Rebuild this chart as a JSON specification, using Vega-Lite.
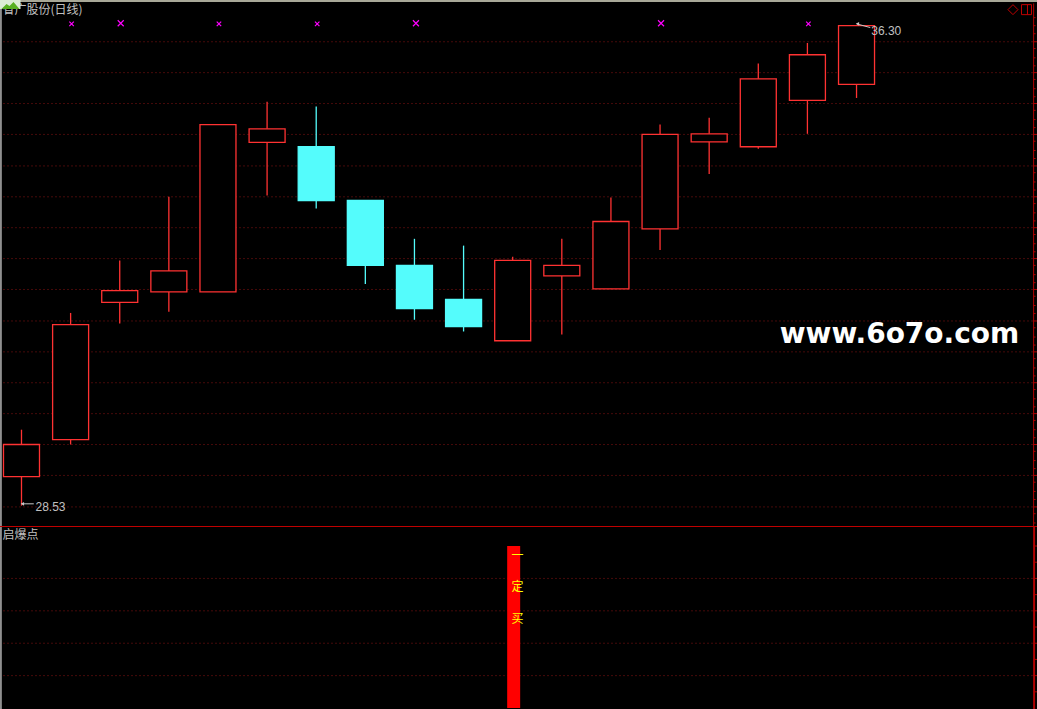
{
"$schema":"https://vega.github.io/schema/vega-lite/v6.json",
"background":"#000000","padding":0,"spacing":0,
"config":{"view":{"stroke":null}},
"datasets":{
"candles":[
{"i":0,"high":29.76,"open":29.00,"close":29.52,"low":28.53,"dir":"up"},
{"i":1,"high":31.65,"open":29.60,"close":31.46,"low":29.52,"dir":"up"},
{"i":2,"high":32.50,"open":31.82,"close":32.01,"low":31.48,"dir":"up"},
{"i":3,"high":33.53,"open":31.99,"close":32.33,"low":31.67,"dir":"up"},
{"i":4,"high":34.70,"open":31.99,"close":34.70,"low":31.99,"dir":"up"},
{"i":5,"high":35.07,"open":34.41,"close":34.63,"low":33.55,"dir":"up"},
{"i":6,"high":34.99,"open":34.34,"close":33.47,"low":33.34,"dir":"down"},
{"i":7,"high":33.47,"open":33.47,"close":32.42,"low":32.12,"dir":"down"},
{"i":8,"high":32.85,"open":32.42,"close":31.72,"low":31.54,"dir":"down"},
{"i":9,"high":32.74,"open":31.87,"close":31.43,"low":31.35,"dir":"down"},
{"i":10,"high":32.56,"open":31.20,"close":32.50,"low":31.20,"dir":"up"},
{"i":11,"high":32.85,"open":32.25,"close":32.42,"low":31.30,"dir":"up"},
{"i":12,"high":33.52,"open":32.04,"close":33.13,"low":32.04,"dir":"up"},
{"i":13,"high":34.70,"open":33.01,"close":34.54,"low":32.67,"dir":"up"},
{"i":14,"high":34.81,"open":34.42,"close":34.55,"low":33.90,"dir":"up"},
{"i":15,"high":35.69,"open":34.34,"close":35.44,"low":34.31,"dir":"up"},
{"i":16,"high":36.02,"open":35.09,"close":35.83,"low":34.55,"dir":"up"},
{"i":17,"high":36.30,"open":35.35,"close":36.30,"low":35.13,"dir":"up"}],
"grid":[{"i":-0.366,"i2":20.605,"p":36.04},{"i":-0.366,"i2":20.605,"p":35.54},{"i":-0.366,"i2":20.605,"p":35.04},{"i":-0.366,"i2":20.605,"p":34.54},{"i":-0.366,"i2":20.605,"p":34.03},{"i":-0.366,"i2":20.605,"p":33.53},{"i":-0.366,"i2":20.605,"p":33.03},{"i":-0.366,"i2":20.605,"p":32.53},{"i":-0.366,"i2":20.605,"p":32.03},{"i":-0.366,"i2":20.605,"p":31.52},{"i":-0.366,"i2":20.605,"p":31.02},{"i":-0.366,"i2":20.605,"p":30.52},{"i":-0.366,"i2":20.605,"p":30.02},{"i":-0.366,"i2":20.605,"p":29.52},{"i":-0.366,"i2":20.605,"p":29.02},{"i":-0.366,"i2":20.605,"p":28.51}],
"ticks":[{"i":20.605,"i2":20.684,"p":36.04},{"i":20.605,"i2":20.684,"p":35.54},{"i":20.605,"i2":20.684,"p":35.04},{"i":20.605,"i2":20.684,"p":34.54},{"i":20.605,"i2":20.684,"p":34.03},{"i":20.605,"i2":20.684,"p":33.53},{"i":20.605,"i2":20.684,"p":33.03},{"i":20.605,"i2":20.684,"p":32.53},{"i":20.605,"i2":20.684,"p":32.03},{"i":20.605,"i2":20.684,"p":31.52},{"i":20.605,"i2":20.684,"p":31.02},{"i":20.605,"i2":20.684,"p":30.52},{"i":20.605,"i2":20.684,"p":30.02},{"i":20.605,"i2":20.684,"p":29.52},{"i":20.605,"i2":20.684,"p":29.02},{"i":20.605,"i2":20.684,"p":28.51},
{"i":20.605,"i2":20.645,"p":36.43},{"i":20.605,"i2":20.645,"p":36.30},{"i":20.605,"i2":20.645,"p":36.17},{"i":20.605,"i2":20.645,"p":35.93},{"i":20.605,"i2":20.645,"p":35.78},{"i":20.605,"i2":20.645,"p":35.65},{"i":20.605,"i2":20.645,"p":35.43},{"i":20.605,"i2":20.645,"p":35.28},{"i":20.605,"i2":20.645,"p":35.15},{"i":20.605,"i2":20.645,"p":34.93},{"i":20.605,"i2":20.645,"p":34.78},{"i":20.605,"i2":20.645,"p":34.65},{"i":20.605,"i2":20.645,"p":34.43},{"i":20.605,"i2":20.645,"p":34.28},{"i":20.605,"i2":20.645,"p":34.15},{"i":20.605,"i2":20.645,"p":33.92},{"i":20.605,"i2":20.645,"p":33.77},{"i":20.605,"i2":20.645,"p":33.64},{"i":20.605,"i2":20.645,"p":33.42},{"i":20.605,"i2":20.645,"p":33.27},{"i":20.605,"i2":20.645,"p":33.14},{"i":20.605,"i2":20.645,"p":32.92},{"i":20.605,"i2":20.645,"p":32.77},{"i":20.605,"i2":20.645,"p":32.64},{"i":20.605,"i2":20.645,"p":32.42},{"i":20.605,"i2":20.645,"p":32.27},{"i":20.605,"i2":20.645,"p":32.14},{"i":20.605,"i2":20.645,"p":31.92},{"i":20.605,"i2":20.645,"p":31.77},{"i":20.605,"i2":20.645,"p":31.64},{"i":20.605,"i2":20.645,"p":31.41},{"i":20.605,"i2":20.645,"p":31.26},{"i":20.605,"i2":20.645,"p":31.13},{"i":20.605,"i2":20.645,"p":30.91},{"i":20.605,"i2":20.645,"p":30.76},{"i":20.605,"i2":20.645,"p":30.63},{"i":20.605,"i2":20.645,"p":30.41},{"i":20.605,"i2":20.645,"p":30.26},{"i":20.605,"i2":20.645,"p":30.13},{"i":20.605,"i2":20.645,"p":29.91},{"i":20.605,"i2":20.645,"p":29.76},{"i":20.605,"i2":20.645,"p":29.63},{"i":20.605,"i2":20.645,"p":29.41},{"i":20.605,"i2":20.645,"p":29.26},{"i":20.605,"i2":20.645,"p":29.13},{"i":20.605,"i2":20.645,"p":28.91},{"i":20.605,"i2":20.645,"p":28.76},{"i":20.605,"i2":20.645,"p":28.63},{"i":20.605,"i2":20.645,"p":28.40},{"i":20.605,"i2":20.645,"p":28.25}],
"axisline":[{"i":20.605,"p":36.66,"p2":28.201}],
"leftedge":[{"i":-0.42,"p":36.716,"p2":28.201}],
"topedge":[{"i":-0.4375,"i2":20.674,"p":36.70}],
"flags":[{"i":1.02,"p":36.33,"s":1},{"i":2.02,"p":36.34,"s":2},{"i":4.02,"p":36.33,"s":1},{"i":6.02,"p":36.33,"s":1},{"i":8.03,"p":36.34,"s":2},{"i":13.02,"p":36.34,"s":2},{"i":16.02,"p":36.33,"s":1}],
"leaders":[{"i":0,"p":28.56,"i2":0.25,"p2":28.56},{"i":17,"p":36.33,"i2":17.28,"p2":36.27}],
"heads":[{"i":0.02,"p":28.56},{"i":17.02,"p":36.33}],
"prices":[{"i":0.285,"p":28.51,"t":"28.53"},{"i":17.3,"p":36.22,"t":"36.30"}],
"title":[{"i":-0.387,"p":36.56,"t":"省广股份(日线)"}],
"mark":[{"i":17.874,"p":31.30,"t":"www.6o7o.com"}],
"icon":[{"i":-0.4375,"p":36.716,"i2":-0.02,"p2":36.57}],
"hills":[{"i":-0.407,"p":36.57,"base":36.57},{"i":-0.305,"p":36.65,"base":36.57},{"i":-0.244,"p":36.62,"base":36.57},{"i":-0.163,"p":36.684,"base":36.57},{"i":-0.041,"p":36.57,"base":36.57}],
"buttons":[{"i":20.185,"p":36.56,"shape":"diamond","size":100},{"i":20.46,"p":36.56,"shape":"square","size":100}],
"divider":[{"i":20.48,"p":36.64,"p2":36.48}],
"bars":[{"i":10.02,"v":100,"base":0}],
"subgrid":[{"i":-0.366,"i2":20.605,"v":80},{"i":-0.366,"i2":20.605,"v":60},{"i":-0.366,"i2":20.605,"v":40},{"i":-0.366,"i2":20.605,"v":20}],
"subticks":[{"i":20.605,"i2":20.684,"v":100},{"i":20.605,"i2":20.684,"v":90},{"i":20.605,"i2":20.684,"v":80},{"i":20.605,"i2":20.684,"v":70},{"i":20.605,"i2":20.684,"v":60},{"i":20.605,"i2":20.684,"v":50},{"i":20.605,"i2":20.684,"v":40},{"i":20.605,"i2":20.684,"v":30},{"i":20.605,"i2":20.684,"v":20},{"i":20.605,"i2":20.684,"v":10}],
"subaxis":[{"i":20.615,"v":112.35,"v2":-0.6}],
"subleft":[{"i":-0.42,"v":112.35,"v2":-0.6}],
"separator":[{"i":-0.4375,"i2":20.674,"v":112.2}],
"words":[{"i":10.1,"v":94,"t":"一"},{"i":10.1,"v":75,"t":"定"},{"i":10.1,"v":55,"t":"买"}],
"subtitle":[{"i":-0.387,"v":106.8,"t":"启爆点"}]
},
"vconcat":[
{"width":1037,"height":526,
"encoding":{
"x":{"field":"i","type":"quantitative","axis":null,"scale":{"domain":[-0.4375,20.674],"nice":false,"zero":false,"padding":0}},
"y":{"field":"p","type":"quantitative","axis":null,"scale":{"domain":[28.201,36.716],"nice":false,"zero":false}}
},
"layer":[
{"data":{"name":"grid"},"mark":{"type":"rule","clip":true,"color":"#8c1414","strokeWidth":1,"strokeDash":[1,3]},"encoding":{"x2":{"field":"i2"}}},
{"data":{"name":"ticks"},"mark":{"type":"rule","clip":true,"color":"#b00000","strokeWidth":1},"encoding":{"x2":{"field":"i2"}}},
{"data":{"name":"axisline"},"mark":{"type":"rule","clip":true,"color":"#b00000","strokeWidth":1},"encoding":{"y2":{"field":"p2"}}},
{"data":{"name":"leftedge"},"mark":{"type":"rule","clip":true,"color":"#909090","strokeWidth":2},"encoding":{"y2":{"field":"p2"}}},
{"data":{"name":"topedge"},"mark":{"type":"rule","clip":true,"color":"#a8a898","strokeWidth":2},"encoding":{"x2":{"field":"i2"}}},
{"data":{"name":"candles"},"mark":{"type":"rule","strokeWidth":1.3},"encoding":{
"y":{"field":"high","type":"quantitative","axis":null,"scale":{"domain":[28.201,36.716],"nice":false,"zero":false}},"y2":{"field":"low"},
"color":{"field":"dir","type":"nominal","legend":null,"scale":{"domain":["up","down"],"range":["#ff3232","#54fcfc"]}}}},
{"data":{"name":"candles"},"mark":{"type":"bar","size":36,"strokeWidth":1.3,"orient":"vertical"},"encoding":{
"y":{"field":"open","type":"quantitative","axis":null,"scale":{"domain":[28.201,36.716],"nice":false,"zero":false}},"y2":{"field":"close"},
"fill":{"field":"dir","type":"nominal","legend":null,"scale":{"domain":["up","down"],"range":["#000000","#54fcfc"]}},
"stroke":{"field":"dir","type":"nominal","legend":null,"scale":{"domain":["up","down"],"range":["#ff3232","#54fcfc"]}}}},
{"data":{"name":"flags"},"mark":{"type":"point","shape":"M-1,-1L1,1M1,-1L-1,1","filled":false,"strokeWidth":1.2,"color":"#ff00ff","opacity":1},"encoding":{
"size":{"field":"s","type":"quantitative","legend":null,"scale":{"domain":[1,2],"range":[20,36]}}}},
{"data":{"name":"leaders"},"mark":{"type":"rule","color":"#c8c8c8","strokeWidth":1},"encoding":{"x2":{"field":"i2"},"y2":{"field":"p2"}}},
{"data":{"name":"heads"},"mark":{"type":"point","shape":"triangle-left","filled":true,"size":14,"color":"#c8c8c8","opacity":1}},
{"data":{"name":"prices"},"mark":{"type":"text","align":"left","baseline":"middle","font":"Liberation Sans","fontSize":12,"color":"#c0c0c0"},"encoding":{"text":{"field":"t"}}},
{"data":{"name":"title"},"mark":{"type":"text","align":"left","baseline":"middle","font":"Noto Sans CJK SC","fontSize":12,"color":"#c0c0c0"},"encoding":{"text":{"field":"t"}}},
{"data":{"name":"icon"},"mark":{"type":"rect","clip":true,"color":"#dcecd4"},"encoding":{"x2":{"field":"i2"},"y2":{"field":"p2"}}},
{"data":{"name":"hills"},"mark":{"type":"area","clip":true,"color":"#58b020","opacity":1},"encoding":{"y2":{"field":"base"}}},
{"data":{"name":"mark"},"mark":{"type":"text","align":"center","baseline":"middle","font":"DejaVu Sans","fontWeight":"bold","fontSize":28,"color":"#ffffff"},"encoding":{"text":{"field":"t"}}},
{"data":{"name":"buttons"},"mark":{"type":"point","filled":false,"color":"#c00000","strokeWidth":1,"opacity":1},"encoding":{
"shape":{"field":"shape","type":"nominal","legend":null,"scale":null},
"size":{"field":"size","type":"quantitative","legend":null,"scale":null}}},
{"data":{"name":"divider"},"mark":{"type":"rule","color":"#c00000","strokeWidth":1},"encoding":{"y2":{"field":"p2"}}}
]},
{"width":1037,"height":183,
"encoding":{
"x":{"field":"i","type":"quantitative","axis":null,"scale":{"domain":[-0.4375,20.674],"nice":false,"zero":false,"padding":0}},
"y":{"field":"v","type":"quantitative","axis":null,"scale":{"domain":[-0.6,112.35],"nice":false,"zero":false}}
},
"layer":[
{"data":{"name":"subgrid"},"mark":{"type":"rule","clip":true,"color":"#8c1414","strokeWidth":1,"strokeDash":[1,3]},"encoding":{"x2":{"field":"i2"}}},
{"data":{"name":"subticks"},"mark":{"type":"rule","clip":true,"color":"#b00000","strokeWidth":1},"encoding":{"x2":{"field":"i2"}}},
{"data":{"name":"subaxis"},"mark":{"type":"rule","clip":true,"color":"#b00000","strokeWidth":2},"encoding":{"y2":{"field":"v2"}}},
{"data":{"name":"subleft"},"mark":{"type":"rule","clip":true,"color":"#909090","strokeWidth":2},"encoding":{"y2":{"field":"v2"}}},
{"data":{"name":"separator"},"mark":{"type":"rule","clip":true,"color":"#c00000","strokeWidth":1.5},"encoding":{"x2":{"field":"i2"}}},
{"data":{"name":"bars"},"mark":{"type":"bar","size":13,"color":"#ff0000"},"encoding":{"y2":{"field":"base"}}},
{"data":{"name":"words"},"mark":{"type":"text","align":"center","baseline":"middle","font":"Noto Sans CJK SC","fontSize":12,"color":"#ffff00"},"encoding":{"text":{"field":"t"}}},
{"data":{"name":"subtitle"},"mark":{"type":"text","align":"left","baseline":"middle","font":"Noto Sans CJK SC","fontSize":12,"color":"#c0c0c0"},"encoding":{"text":{"field":"t"}}}
]}
]}
